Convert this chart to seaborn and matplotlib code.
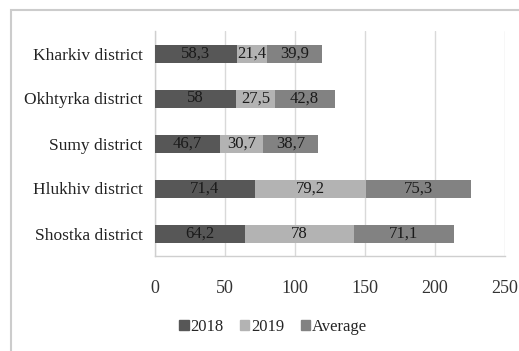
import matplotlib
matplotlib.use("Agg")
import matplotlib.pyplot as plt
import seaborn as sns
import pandas as pd
import numpy as np
from matplotlib.patches import Rectangle

districts = ["Kharkiv district", "Okhtyrka district", "Sumy district",
             "Hlukhiv district", "Shostka district"]
v2018 = [58.3, 58, 46.7, 71.4, 64.2]
v2019 = [21.4, 27.5, 30.7, 79.2, 78]
vavg = [39.9, 42.8, 38.7, 75.3, 71.1]
series_names = ["2018", "2019", "Average"]
xticks = [0, 50, 100, 150, 200, 250]

colors = {"2018": "#575757", "2019": "#b3b3b3", "Average": "#828282"}

sns.set_theme(style="white")
plt.rcParams['font.family'] = ['Liberation Serif', 'DejaVu Serif']

df = pd.DataFrame({"district": districts, "2018": v2018, "2019": v2019, "Average": vavg})
df["c1"] = df["2018"]
df["c2"] = df["2018"] + df["2019"]
df["c3"] = df["c2"] + df["Average"]

fig = plt.figure(figsize=(5.19, 3.51), dpi=100)
ax = fig.add_axes([155/519, 1-256/351, (505-155)/519, (256-31)/351])

bw = 0.4
for col, name in zip(["c3", "c2", "c1"], ["Average", "2019", "2018"]):
    sns.barplot(data=df, y="district", x=col, order=districts, color=colors[name],
                width=bw, orient="y", ax=ax, saturation=1, zorder=3,
                linewidth=0)
if ax.get_legend() is not None:
    ax.get_legend().remove()

def fmt(v):
    s = f"{v:g}"
    return s.replace(".", ",")

starts = {"2018": np.zeros(5), "2019": df["c1"].values, "Average": df["c2"].values}
for name in series_names:
    vals = df[name].values
    for i, (s, v) in enumerate(zip(starts[name], vals)):
        ax.text(s + v/2, i, fmt(v), ha="center", va="center", fontsize=12,
                color="#1a1a1a", zorder=5)

ax.set_xlim(0, 250)
ax.set_ylim(4.5, -0.5)
ax.set_xticks(xticks)
ax.set_xticklabels([str(t) for t in xticks], fontsize=13, color="#333333")
ax.set_yticks(range(5))
ax.set_yticklabels(districts, fontsize=12.5, color="#222222")
ax.set_xlabel("")
ax.set_ylabel("")
ax.grid(axis="x", color="#d9d9d9", linewidth=1, zorder=0)
ax.set_axisbelow(True)
for s in ["top", "right"]:
    ax.spines[s].set_visible(False)
for s in ["left", "bottom"]:
    ax.spines[s].set_color("#cfcfcf")
    ax.spines[s].set_linewidth(1)
ax.tick_params(axis="y", which="major", length=0, pad=9)
ax.set_yticks(np.arange(-0.5, 5, 1), minor=True)
ax.tick_params(axis="y", which="minor", length=5, color="#cfcfcf", direction="out")
ax.tick_params(axis="x", which="major", length=5, color="#cfcfcf", direction="out", pad=12)

handles = [Rectangle((0, 0), 1, 1, color=colors[n]) for n in series_names]
fig.legend(handles, series_names, loc="center", bbox_to_anchor=(273/519, 1-327/351),
           ncol=3, frameon=False, fontsize=12, handlelength=0.55, handleheight=0.55,
           handletextpad=0.1, columnspacing=1.0)

fig.patches.append(Rectangle((11/519, -0.1), 1.2, 1 - 10/351 + 0.1, transform=fig.transFigure,
                             fill=False, edgecolor="#cccccc", linewidth=1.5))

fig.savefig("out.png", dpi=100)
